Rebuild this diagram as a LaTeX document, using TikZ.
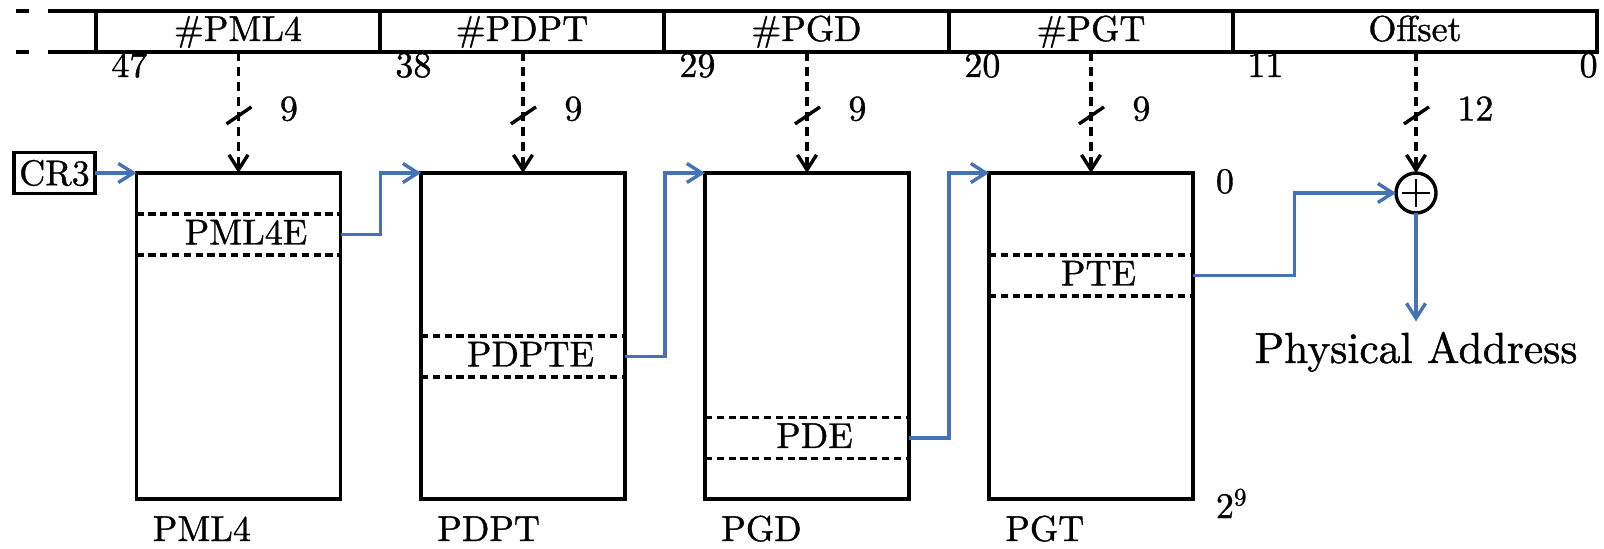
\documentclass[tikz,border=0pt]{standalone}
\usepackage{fontspec}
\newfontfamily\lmten{lmroman10-regular.otf}[FakeBold=1]
\usetikzlibrary{arrows.meta,calc}
\definecolor{linkblue}{RGB}{68,114,178}
\tikzset{
  txt/.style={font=\lmten\fontsize{18}{22}\selectfont, inner sep=0pt},
  bigtxt/.style={font=\lmten\fontsize{21.75}{26}\selectfont, inner sep=0pt},
  stroke/.style={line width=1.7pt},
  field/.style={txt, draw, stroke, outer sep=0pt, minimum height=20.5pt, text height=9.5pt, text depth=0pt},
  tablebox/.style={draw, stroke, outer sep=0pt, minimum width=102pt, minimum height=163pt, inner sep=0pt},
  entry/.style={minimum width=102pt, minimum height=20.5pt, inner sep=0pt, outer sep=0pt},
  entryline/.style={stroke, dash pattern=on 3.6pt off 2.3pt},
  barb/.style={-{Straight Barb[length=7.5pt,width=9.5pt]}},
  idxarrow/.style={stroke, barb, dash pattern=on 4.5pt off 3pt},
  link/.style={stroke, linkblue, barb},
  bitno/.style={txt, anchor=base west},
}
\begin{document}
\begin{tikzpicture}[x=0.5pt,y=-0.5pt]
\useasboundingbox (0,0) rectangle (1604,549);

% virtual address fields
\node[field, minimum width=142pt]   (f1) at (238,31.5)   {\#PML4};
\node[field, minimum width=142pt]   (f2) at (522,31.5)   {\#PDPT};
\node[field, minimum width=142.5pt] (f3) at (806.5,31.5) {\#PGD};
\node[field, minimum width=142pt]   (f4) at (1091,31.5)  {\#PGT};
\node[field, minimum width=182pt]   (f5) at (1415,31.5)  {Offset};

% upper bits left out
\draw[stroke] (16,11) -- (29,11) (48,11) -- (f1.north west);
\draw[stroke] (16,52) -- (29,52) (48,52) -- (f1.south west);

% bit positions
\node[bitno] (b47) at (111,77) {47};
\node[bitno] (b38) at (395,77) {38};
\node[bitno] (b29) at (679,77) {29};
\node[bitno] (b20) at (964,77) {20};
\node[bitno] (b11) at (1247,77) {11};
\node[txt, anchor=base east] (b0) at (1598,77) {0};

% page tables
\node[tablebox] (pml4) at (238.5,336) {};
\node[tablebox] (pdpt) at (523,336) {};
\node[tablebox] (pgd)  at (807,336) {};
\node[tablebox] (pgt)  at (1091,336) {};

% selected entries
\node[entry] (e1) at (238.5,234.5) {};
\node[entry] (e2) at (523,356.5) {};
\node[entry] (e3) at (807,438) {};
\node[entry] (e4) at (1091,275.5) {};
\foreach \e in {e1,e2,e3,e4}
  \draw[entryline] (\e.north west) -- (\e.north east) (\e.south west) -- (\e.south east);
\node[txt, anchor=base] (t1) at ($(e1.center)+(7.5,10)$) {PML4E};
\node[txt, anchor=base] (t2) at ($(e2.center)+(7.5,10)$) {PDPTE};
\node[txt, anchor=base] (t3) at ($(e3.center)+(7.5,10)$) {PDE};
\node[txt, anchor=base] (t4) at ($(e4.center)+(7.5,10)$) {PTE};

% table names
\node[txt, anchor=base west] (n1) at ($(pml4.south west)+(16,42)$) {PML4};
\node[txt, anchor=base west] (n2) at ($(pdpt.south west)+(16,42)$) {PDPT};
\node[txt, anchor=base west] (n3) at ($(pgd.south west)+(16,42)$) {PGD};
\node[txt, anchor=base west] (n4) at ($(pgt.south west)+(16,42)$) {PGT};

% index range
\node[txt, anchor=base west] (r0) at ($(pgt.north east)+(22.5,20)$) {0};
\node[txt, anchor=base west] (r1) at ($(pgt.south east)+(22.5,19)$) {2\textsuperscript{9}};

% CR3 register
\node[txt, draw, stroke, outer sep=0pt, minimum width=40.5pt, minimum height=20.5pt] (cr3) at (54.5,173) {CR3};

% adder
\node[draw, stroke, circle, minimum size=20pt, inner sep=0pt, outer sep=0pt] (plus) at (1416,193) {};
\draw[line width=0.6pt] (plus.center) ++(-7pt,0) -- ++(14pt,0);
\draw[line width=0.6pt] (plus.center) ++(0,-7pt) -- ++(0,14pt);

% result
\node[bigtxt, anchor=base] (pa) at (1416,363) {Physical Address};

% index bits with bus widths
\foreach \f/\t/\i/\w in {f1/pml4/1/9, f2/pdpt/2/9, f3/pgd/3/9, f4/pgt/4/9} {
  \draw[idxarrow] (\t.north |- \f.south) -- (\t.north) coordinate[pos=0.52] (s\i);
  \draw[stroke] ($(s\i)+(-12,9)$) -- ($(s\i)+(13,-8)$);
  \node[txt, anchor=base west] (w\i) at ($(s\i)+(41,5.5)$) {\w};
}
\draw[idxarrow] (plus.north |- f5.south) -- (plus.north) coordinate[pos=0.52] (s5);
\draw[stroke] ($(s5)+(-12,9)$) -- ($(s5)+(13,-8)$);
\node[txt, anchor=base west] (w5) at ($(s5)+(41,5.5)$) {12};

% translation chain
\coordinate (m1) at ($(pml4.north east)!0.5!(pdpt.north west)$);
\coordinate (m2) at ($(pdpt.north east)!0.5!(pgd.north west)$);
\coordinate (m3) at ($(pgd.north east)!0.5!(pgt.north west)$);
\coordinate (m4) at ($(pgt.north east |- plus.west)!0.5!(plus.west)$);
\draw[link] (cr3.east) -- (pml4.north west);
\draw[link] (e1.east) -| (m1) -- (pdpt.north west);
\draw[link] (e2.east) -| (m2) -- (pgd.north west);
\draw[link] (e3.east) -| (m3) -- (pgt.north west);
\draw[link] (e4.east) -| (m4) -- (plus.west);
\draw[link, shorten >=5pt] (plus.south) -- (pa.north);
\end{tikzpicture}
\end{document}
